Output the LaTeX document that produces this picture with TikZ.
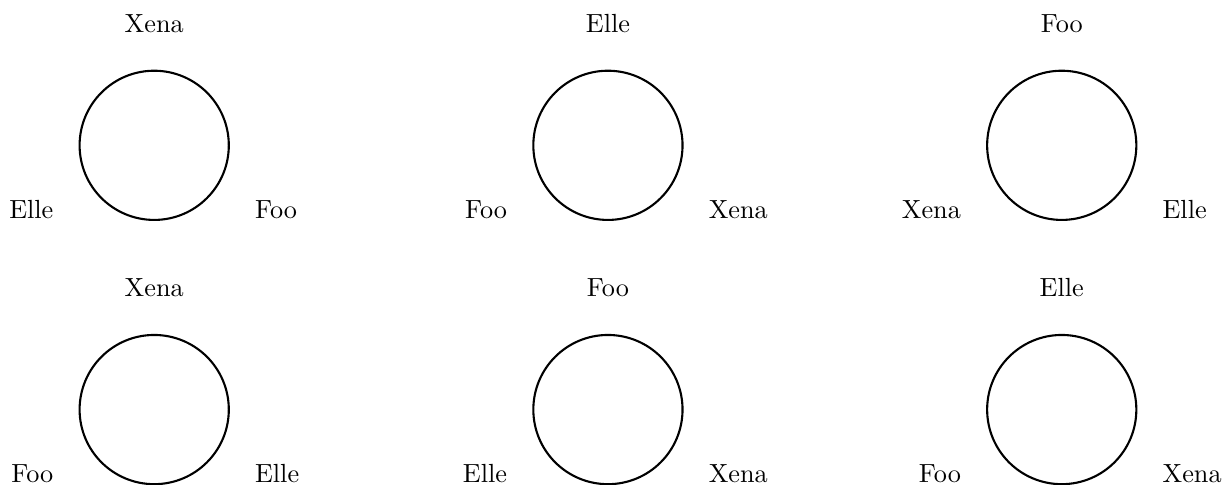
\documentclass[tikz,border=0pt]{standalone}
\usetikzlibrary{calc}
\newcommand{\threenames}[4]{
\node[ring] (#1ring) at (#1) {};
\path (#1) ++(0,1.515) node[topname] (#1top) {#2};
\path (#1) ++(-1.345,-0.975) node[leftname] (#1left) {#3};
\path (#1) ++(1.345,-0.975) node[rightname] (#1right) {#4};
}
\begin{document}
\begin{tikzpicture}[
% circles
ring/.style={circle, draw, thick, minimum size=2cm, inner sep=0},
% names round each circle
lbl/.style={inner sep=0},
topname/.style={lbl, anchor=base},
leftname/.style={lbl, anchor=base east},
rightname/.style={lbl, anchor=base west}
]

\useasboundingbox (-2.067,-4.540) rectangle (14.34,1.948);

% upper row
\coordinate (a1) at (0,0);
\coordinate (a2) at (6.082,0);
\coordinate (a3) at (12.165,0);

% lower row
\path let \n1 = {-3.542} in
(a1) +(0,\n1) coordinate (b1)
(a2) +(0,\n1) coordinate (b2)
(a3) +(0,\n1) coordinate (b3)
;

\threenames{a1}{Xena}{Elle}{Foo}
\threenames{a2}{Elle}{Foo}{Xena}
\threenames{a3}{Foo}{Xena}{Elle}

\threenames{b1}{Xena}{Foo}{Elle}
\threenames{b2}{Foo}{Elle}{Xena}
\threenames{b3}{Elle}{Foo}{Xena}

\end{tikzpicture}
\end{document}
